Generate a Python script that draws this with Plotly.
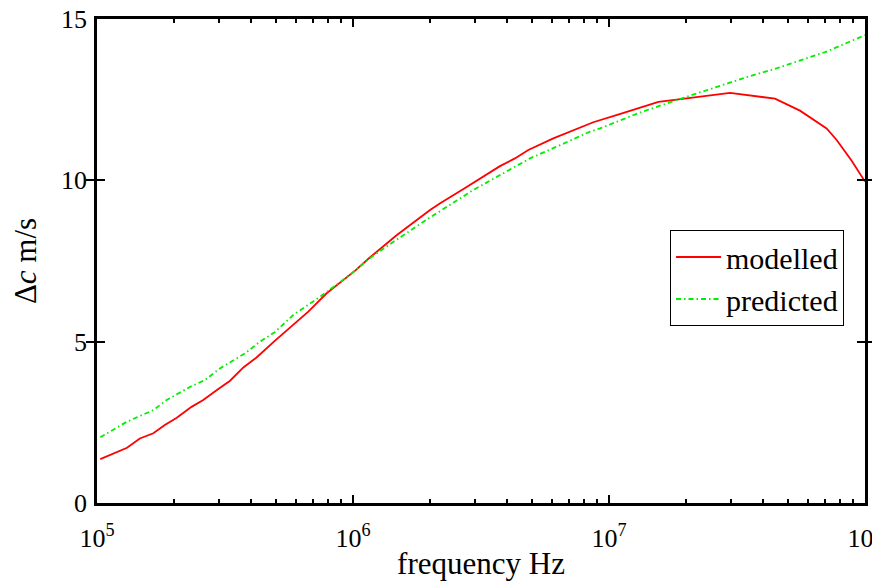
import plotly.graph_objects as go

# Modelled curve (frequency in Hz, delta c in m/s)
freq_modelled = [1.03e5, 1.31e5, 1.47e5, 1.66e5, 1.84e5, 2.05e5, 2.34e5, 2.60e5, 2.94e5,
                 3.31e5, 3.73e5, 4.20e5, 4.96e5, 6.69e5, 7.89e5, 1.02e6, 1.16e6, 1.48e6,
                 2.00e6, 2.19e6, 2.70e6, 3.75e6, 4.29e6, 4.84e6, 6.06e6, 7.59e6, 8.68e6,
                 1.10e7, 1.56e7, 1.87e7, 2.97e7, 4.45e7, 5.57e7, 7.08e7, 7.75e7, 8.87e7, 1.0e8]
dc_modelled = [1.36, 1.71, 2.00, 2.16, 2.42, 2.64, 2.98, 3.19, 3.50,
               3.79, 4.20, 4.51, 5.03, 5.93, 6.50, 7.20, 7.60, 8.30,
               9.08, 9.29, 9.73, 10.44, 10.68, 10.94, 11.30, 11.61, 11.80,
               12.05, 12.43, 12.51, 12.71, 12.53, 12.16, 11.61, 11.25, 10.61, 9.96]

# Predicted curve
freq_predicted = [1.03e5, 1.31e5, 1.66e5, 1.87e5, 2.31e5, 2.64e5, 3.02e5, 3.36e5, 3.79e5,
                  4.33e5, 4.96e5, 5.85e5, 7.43e5, 9.73e5, 1.16e6, 1.44e6, 2.00e6, 2.95e6,
                  3.64e6, 4.91e6, 6.44e6, 8.43e6, 9.23e6, 1.32e7, 1.84e7, 2.63e7, 3.55e7,
                  4.39e7, 5.41e7, 7.08e7, 1.0e8]
dc_predicted = [2.04, 2.52, 2.88, 3.19, 3.60, 3.81, 4.17, 4.38, 4.64,
                5.00, 5.30, 5.83, 6.39, 7.07, 7.58, 8.10, 8.85, 9.70,
                10.11, 10.68, 11.09, 11.51, 11.61, 12.10, 12.49, 12.90, 13.23,
                13.44, 13.68, 13.99, 14.50]

x_tickvals = [1e5, 1e6, 1e7, 1e8]
x_ticktext = ["10<sup>5</sup>", "10<sup>6</sup>", "10<sup>7</sup>", "10<sup>8</sup>"]
y_tickvals = [0, 5, 10, 15]
x_minor = [m * d for d in (1e5, 1e6, 1e7) for m in range(2, 10)]

FONT = "Liberation Serif, Times New Roman, serif"

fig = go.Figure()
fig.add_trace(go.Scatter(x=freq_modelled, y=dc_modelled, mode="lines", name="modelled",
                         line=dict(color="#ff0000", width=1.8)))
fig.add_trace(go.Scatter(x=freq_predicted, y=dc_predicted, mode="lines", name="predicted",
                         line=dict(color="#00ee00", width=1.8, dash="5px,3px,1.5px,3px")))
# empty trace that carries the overlay axis used for minor ticks
fig.add_trace(go.Scatter(x=[], y=[], xaxis="x2", yaxis="y", showlegend=False, hoverinfo="skip"))

# the page body adds an 8px margin, so the figure is 8px smaller on each axis
fig.update_layout(
    width=872, height=573,
    margin=dict(l=89, r=15, t=11, b=78, autoexpand=False),
    paper_bgcolor="white", plot_bgcolor="white",
    font=dict(family=FONT, size=26, color="black"),
    showlegend=True,
    legend=dict(x=0.9727, y=0.564, xanchor="right", yanchor="top",
                bgcolor="white", bordercolor="black", borderwidth=1,
                font=dict(family=FONT, size=30, color="black"),
                itemwidth=45, tracegroupgap=0),
    xaxis=dict(
        type="log", range=[5, 8],
        tickmode="array", tickvals=x_tickvals, ticktext=x_ticktext,
        ticks="inside", ticklen=8, tickwidth=1.5, tickcolor="black",
        showline=True, linecolor="black", linewidth=2.5, mirror="allticks",
        showgrid=False, zeroline=False, automargin=False,
        tickfont=dict(family=FONT, size=26), ticklabelstandoff=10,
        ticklabeloverflow="allow",
        title=dict(text="frequency Hz", font=dict(family=FONT, size=31), standoff=2),
    ),
    xaxis2=dict(
        type="log", range=[5, 8], overlaying="x", side="bottom",
        tickmode="array", tickvals=x_minor, showticklabels=False,
        ticks="inside", ticklen=4, tickwidth=1.5, tickcolor="black",
        showline=False, mirror="allticks",
        showgrid=False, zeroline=False, automargin=False,
    ),
    yaxis=dict(
        range=[0, 15],
        tickmode="array", tickvals=y_tickvals,
        ticks="inside", ticklen=8, tickwidth=1.5, tickcolor="black",
        showline=True, linecolor="black", linewidth=2.5, mirror="allticks",
        showgrid=False, zeroline=False, automargin=False,
        tickfont=dict(family=FONT, size=26), ticklabelstandoff=2,
        ticklabeloverflow="allow",
        title=dict(text="Δ<i>c</i> m/s", font=dict(family=FONT, size=31), standoff=28),
    ),
)

fig.write_html("out.html")
